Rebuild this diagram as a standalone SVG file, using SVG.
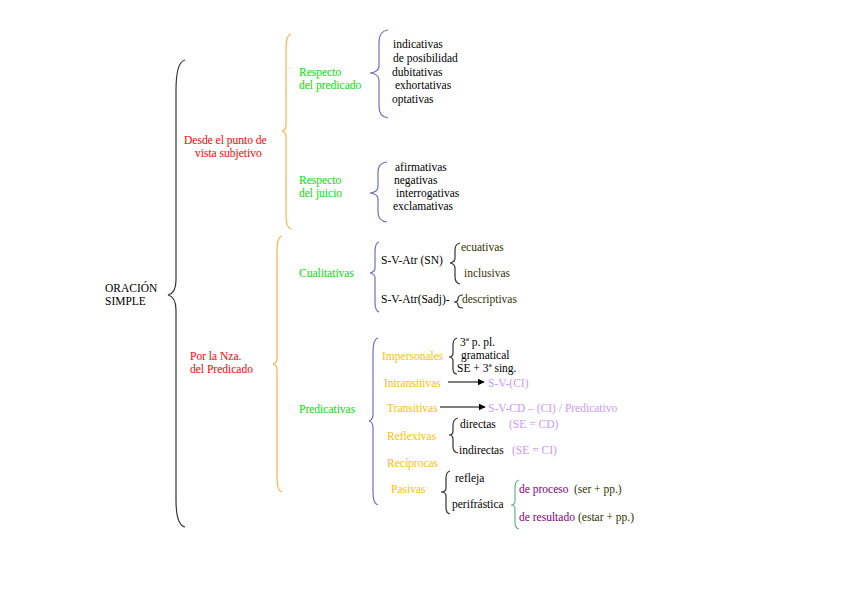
<svg xmlns="http://www.w3.org/2000/svg" width="848" height="599" viewBox="0 0 848 599">
<style>
text{font-family:"Liberation Serif","DejaVu Serif","Times New Roman",serif;font-size:11.5px;fill:#000}
.red{fill:#FF0000}.grn{fill:#00E000}.gold{fill:#FFC000}.lp{fill:#CC99FF}.dp{fill:#800080}.ol{fill:#333300}
.br{fill:none;stroke-width:1.2}
.bk{stroke:#333}.or{stroke:#FFB347}.bl{stroke:#7070C0}.tg{stroke:#5FB88A}
.ar{stroke:#000;stroke-width:1.2;fill:none}
</style>
<defs>
<marker id="ah" viewBox="0 0 10 10" refX="9" refY="5" markerWidth="7" markerHeight="7" markerUnits="userSpaceOnUse" orient="auto"><path d="M0,0 L10,5 L0,10 z" fill="#000"/></marker>
</defs>
<g id="connectors">
<path class="br bk" d="M185,60 Q176,62 176,90 L176,280 Q176,293 168,295 Q176,297 176,310 L176,500 Q176,525 185,527"/>
<path class="br or" d="M291,34 Q286,35 286,48 L286,125 Q286,130 282,131 Q286,132 286,137 L286,215 Q286,228 291,229"/>
<path class="br or" d="M282,236 Q277,237 277,250 L277,358 Q277,363 273,364 Q277,365 277,370 L277,478 Q277,491 282,492"/>
<path class="br bl" d="M388,30 Q379,31 379,42 L379,66 Q379,72 370,73 Q379,74 379,80 L379,106 Q379,117 388,118"/>
<path class="br bl" d="M387,162 Q378,163 378,172 L378,187 Q378,192 370,193 Q378,194 378,199 L378,212 Q378,221 387,222"/>
<path class="br bl" d="M379,242 Q375,243 375,252 L375,268 Q375,272 370,273 Q375,274 375,278 L375,302 Q375,311 379,312"/>
<path class="br bk" d="M460,243 Q455,244 455,250 L455,258 Q455,262 450,263 Q455,264 455,268 L455,277 Q455,283 460,284"/>
<path class="br bk" d="M463,295 Q458,295 458,299 Q458,302 454,302 Q458,302 458,305 Q458,308 463,308"/>
<path class="br bl" d="M378,338 Q373,339 373,352 L373,414 Q373,420 369,421 Q373,422 373,428 L373,492 Q373,504 378,505"/>
<path class="br bk" d="M457,338 Q453,339 453,345 L453,353 Q453,357 449,357 Q453,357 453,361 L453,369 Q453,374 457,374"/>
<path class="ar" d="M448,382 L484,382" marker-end="url(#ah)"/>
<path class="ar" d="M440,407 L485,407" marker-end="url(#ah)"/>
<path class="br bk" d="M458,418 Q453,419 453,425 L453,431 Q453,435 449,435 Q453,435 453,439 L453,447 Q453,452 458,453"/>
<path class="br bk" d="M450,471 Q446,472 446,478 L446,488 Q446,492 441,492 Q446,492 446,496 L446,508 Q446,513 450,514"/>
<path class="br tg" d="M519,480 Q515,481 515,487 L515,501 Q515,505 511,505 Q515,505 515,509 L515,523 Q515,528 519,529"/>
</g>
<g id="root"><text x="105" y="292">ORACIÓN</text><text x="105" y="305">SIMPLE</text></g>
<g id="n-desde"><text class="red" x="184" y="144">Desde el punto de</text><text class="red" x="195" y="157">vista subjetivo</text></g>
<g id="n-nza"><text class="red" x="190" y="360">Por la Nza.</text><text class="red" x="190" y="373">del Predicado</text></g>
<g id="n-rpred"><text class="grn" x="299" y="76">Respecto</text><text class="grn" x="299" y="89">del predicado</text></g>
<g id="n-rjuicio"><text class="grn" x="299" y="184">Respecto</text><text class="grn" x="299" y="197">del juicio</text></g>
<g id="n-cual"><text class="grn" x="299" y="277">Cualitativas</text></g>
<g id="n-predic"><text class="grn" x="299" y="413">Predicativas</text></g>
<g id="n-modal">
<text x="393" y="48">indicativas</text>
<text x="393" y="62">de posibilidad</text>
<text x="392" y="76">dubitativas</text>
<text x="395" y="89">exhortativas</text>
<text x="392" y="103">optativas</text>
</g>
<g id="n-juicio">
<text x="395" y="171">afirmativas</text>
<text x="394" y="184">negativas</text>
<text x="396" y="197">interrogativas</text>
<text x="393" y="210">exclamativas</text>
</g>
<g id="n-atrsn"><text x="381" y="264">S-V-Atr (SN)</text></g>
<g id="n-ecu"><text class="ol" x="461" y="251">ecuativas</text><text class="ol" x="464" y="277">inclusivas</text></g>
<g id="n-atrsadj"><text x="381" y="303">S-V-Atr(Sadj)-</text></g>
<g id="n-desc"><text class="ol" x="462" y="303">descriptivas</text></g>
<g id="n-imp"><text class="gold" x="382" y="360">Impersonales</text></g>
<g id="n-imp-items">
<text x="460" y="346">3ª p. pl.</text>
<text x="461" y="359">gramatical</text>
<text x="457" y="372">SE + 3ª sing.</text>
</g>
<g id="n-intr"><text class="gold" x="384" y="387">Intransitivas</text></g>
<g id="n-svci"><text class="lp" x="488" y="387">S-V-(CI)</text></g>
<g id="n-trans"><text class="gold" x="387" y="412">Transitivas</text></g>
<g id="n-svcd"><text class="lp" x="488" y="412">S-V-CD – (CI) / Predicativo</text></g>
<g id="n-refl"><text class="gold" x="387" y="440">Reflexivas</text></g>
<g id="n-refl-items">
<text x="460" y="428">directas</text><text class="lp" x="509" y="428">(SE = CD)</text>
<text x="459" y="454">indirectas</text><text class="lp" x="512" y="454">(SE = CI)</text>
</g>
<g id="n-recip"><text class="gold" x="387" y="467">Recíprocas</text></g>
<g id="n-pas"><text class="gold" x="391" y="493">Pasivas</text></g>
<g id="n-pas-items"><text x="455" y="482">refleja</text><text x="452" y="508">perifrástica</text></g>
<g id="n-peri">
<text class="dp" x="519" y="493">de proceso</text><text class="ol" x="574" y="493">(ser + pp.)</text>
<text class="dp" x="519" y="521">de resultado</text><text class="ol" x="578" y="521">(estar + pp.)</text>
</g>
</svg>
